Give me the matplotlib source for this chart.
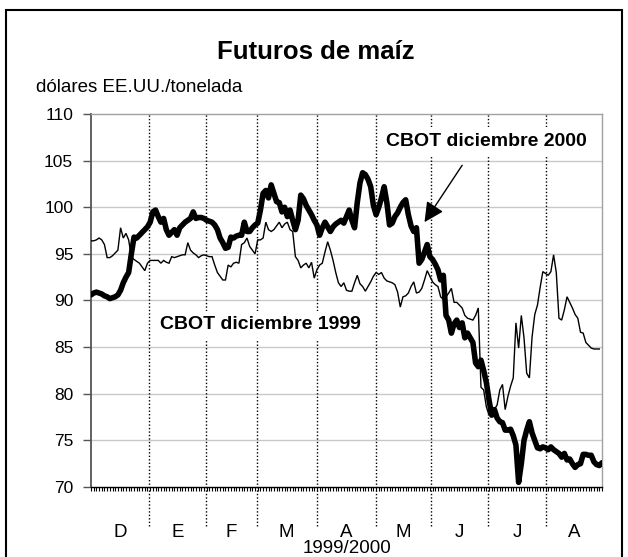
import matplotlib
matplotlib.use("Agg")
import matplotlib.pyplot as plt
from matplotlib.patches import Rectangle

plt.rcParams['font.family'] = ['Liberation Sans', 'DejaVu Sans']

# ---- data (trading days, Dec 1999 - Aug 2000) ----
months = ['D', 'E', 'F', 'M', 'A', 'M', 'J', 'J', 'A']
month_bounds = [0, 21.5, 42.7, 61.6, 83.9, 105.8, 126.5, 147.7, 169.2, 190]
x_label = '1999/2000'
yticks = [70, 75, 80, 85, 90, 95, 100, 105, 110]

dec2000 = [
    90.6, 90.8, 90.9, 90.8, 90.7, 90.5, 90.4, 90.2, 90.3, 90.4,
    90.6, 91.1, 91.9, 92.5, 93.0, 95.0, 96.8, 96.7, 97.0, 97.3,
    97.6, 97.9, 98.4, 99.5, 99.7, 99.0, 98.4, 98.8, 97.6, 97.0,
    97.3, 97.6, 97.0, 97.8, 98.1, 98.4, 98.6, 98.8, 99.5, 98.8,
    98.9, 98.9, 98.8, 98.6, 98.5, 98.4, 98.1, 97.6, 96.7, 96.2,
    95.6, 95.7, 96.8, 96.7, 96.9, 97.0, 97.0, 98.4, 97.4, 97.4,
    97.8, 98.1, 98.3, 99.7, 101.5, 101.8, 101.0, 102.4, 101.5, 100.6,
    100.5, 99.5, 100.0, 99.0, 99.7, 98.6, 97.6, 98.6, 101.3, 100.9,
    100.2, 99.7, 99.2, 98.6, 98.1, 97.0, 97.8, 98.4, 97.9, 97.4,
    97.9, 98.2, 98.4, 98.6, 98.3, 99.0, 99.7, 98.6, 97.8, 100.5,
    102.6, 103.7, 103.5, 103.0, 102.2, 100.2, 99.2, 100.0, 101.0, 102.2,
    100.5, 98.1, 98.3, 99.0, 99.4, 100.0, 100.5, 100.8, 99.2, 98.0,
    97.4, 97.8, 94.0, 94.4, 95.2, 96.0, 94.7, 94.4, 93.9, 93.3,
    92.2, 92.7, 88.4, 87.9, 86.5, 87.5, 87.9, 87.1, 87.6, 86.0,
    86.5, 86.0, 85.5, 83.3, 82.9, 83.6, 82.5, 81.2, 79.3, 77.7,
    78.3, 77.4, 77.0, 76.9, 76.1, 76.1, 76.2, 75.5, 74.5, 70.5,
    72.5, 75.0, 76.1, 77.0, 75.8, 75.0, 74.2, 74.1, 74.3, 74.2,
    74.0, 74.3, 74.0, 73.8, 73.6, 73.2, 73.6, 72.9, 73.0, 72.5,
    72.1, 72.4, 72.5, 73.5, 73.5, 73.4, 73.4, 72.7, 72.4, 72.3,
    72.6,
]

dec1999 = [
    96.4, 96.4, 96.5, 96.7, 96.5, 96.0, 94.6, 94.6, 94.8, 95.1,
    95.4, 97.8, 96.7, 97.2, 96.5, 94.7, 94.4, 94.2, 94.0, 93.6,
    93.2, 94.0, 94.3, 94.3, 94.3, 94.3, 94.0, 94.3, 94.1, 94.0,
    94.7, 94.6, 94.7, 94.8, 94.9, 94.9, 96.2, 95.4, 95.1, 94.9,
    94.6, 94.8, 94.9, 94.8, 94.7, 94.7, 93.8, 93.0, 92.6, 92.2,
    92.2, 93.8, 93.6, 94.0, 94.1, 94.0, 96.0, 96.2, 96.7, 95.8,
    95.4, 95.0, 96.5, 96.5, 96.7, 98.4, 97.6, 97.4, 97.6, 98.0,
    98.4, 97.8, 98.2, 98.4, 97.6, 97.4, 94.7, 94.3, 93.5, 93.8,
    94.0, 93.5, 94.1, 92.4, 93.3, 93.8, 94.0, 95.2, 96.3, 95.4,
    94.3, 93.0, 91.9, 91.5, 91.9, 91.1, 91.0, 91.0, 91.9, 92.7,
    91.8, 91.5, 91.0, 91.5, 92.0, 92.6, 93.0, 92.8, 93.0, 92.4,
    92.1, 92.0, 91.9, 91.7, 90.9, 89.3, 90.4, 90.5, 90.8, 91.5,
    92.0, 90.8, 90.9, 91.3, 92.2, 93.2, 92.6, 92.0, 91.7, 91.5,
    90.4, 90.1, 90.4, 90.8, 91.3, 89.8, 89.8, 89.5, 89.2, 88.4,
    88.1, 88.0, 87.9, 88.4, 89.2, 80.7, 80.4, 78.6, 77.7, 77.9,
    78.3, 78.8, 80.4, 81.0, 78.3, 79.7, 80.8, 81.7, 87.6, 84.9,
    88.4, 86.0, 82.2, 81.7, 86.1, 88.5, 89.5, 91.4, 93.1, 92.9,
    92.7, 93.1, 94.9, 93.0, 88.1, 87.9, 89.0, 90.4, 89.8, 89.2,
    88.5, 88.1, 86.6, 86.5, 85.5, 85.2, 84.9, 84.8, 84.8, 84.8,
]

title = 'Futuros de maíz'
unit = 'dólares EE.UU./tonelada'
label2000 = 'CBOT diciembre 2000'
label1999 = 'CBOT diciembre 1999'

# ---- figure ----
W, H = 628, 557
fig = plt.figure(figsize=(W / 100, H / 100), dpi=100)
fig.patch.set_facecolor('white')

# outer frame
fig.patches.append(Rectangle((6 / W, -0.02), 616 / W, 1 - 10 / H + 0.02,
                             transform=fig.transFigure, fill=False,
                             edgecolor='black', lw=1.5, zorder=0))

ax = fig.add_axes([91 / W, (H - 487) / H, 511 / W, 373 / H])

x2000 = list(range(len(dec2000)))
x1999 = list(range(len(dec1999)))

ax.set_xlim(month_bounds[0], month_bounds[-1])
ax.set_ylim(yticks[0], yticks[-1])

# horizontal grid
for v in yticks[1:-1]:
    ax.axhline(v, color='#c8c8c8', lw=1, zorder=1)

# dotted month separators (extend below the axis)
trans = ax.get_xaxis_transform()
for b in month_bounds[1:-1]:
    ax.plot([b, b], [-0.105, 1.0], transform=trans, color='black',
            lw=1, linestyle=(0, (1, 1.5)), clip_on=False, zorder=2)

ax.plot(x1999, dec1999, color='black', lw=1.0, zorder=4,
        solid_joinstyle='miter')
ax.plot(x2000, dec2000, color='black', lw=4.0, zorder=5,
        solid_joinstyle='round', solid_capstyle='round')

# spines
ax.spines['left'].set_color('#555555')
ax.spines['left'].set_linewidth(1.3)
ax.spines['bottom'].set_color('black')
ax.spines['bottom'].set_linewidth(1.0)
for s in ('top', 'right'):
    ax.spines[s].set_color('#a0a0a0')
    ax.spines[s].set_linewidth(1.0)

# y ticks
ax.set_yticks(yticks)
ax.set_yticklabels([str(v) for v in yticks], fontsize=12.5)
ax.tick_params(axis='y', direction='out', length=5.8, width=1,
               color='#555555', pad=7)

# x minor ticks daily
ax.set_xticks(x2000, minor=True)
ax.set_xticks([])
ax.tick_params(axis='x', which='minor', direction='out', length=3,
               width=0.8, color='black')

# month labels
for i, m in enumerate(months):
    c = (month_bounds[i] + month_bounds[i + 1]) / 2
    ax.text(c, -0.121, m, transform=trans, ha='center', va='center',
            fontsize=13.5)
ax.text(0.5, -0.165, x_label, transform=ax.transAxes, ha='center',
        va='center', fontsize=13.5)

# labels
ax.text(146.9, 107.1, label2000, ha='center', va='center', fontsize=14,
        fontweight='bold', zorder=6,
        bbox=dict(facecolor='white', edgecolor='none', pad=4))
ax.text(63.0, 87.4, label1999, ha='center', va='center', fontsize=14,
        fontweight='bold', zorder=6,
        bbox=dict(facecolor='white', edgecolor='none', pad=4))

ax.annotate('', xy=(124.0, 98.4), xytext=(138.0, 104.5),
            arrowprops=dict(arrowstyle='-|>', color='black', lw=1.0,
                            mutation_scale=30, shrinkA=0, shrinkB=0),
            zorder=6)

# titles
fig.text(316 / W, 1 - 52 / H, title, ha='center', va='center',
         fontsize=18.5, fontweight='bold')
fig.text(36 / W, 1 - 87 / H, unit, ha='left', va='center', fontsize=13.5)

fig.savefig('out.png', dpi=100, facecolor='white')
